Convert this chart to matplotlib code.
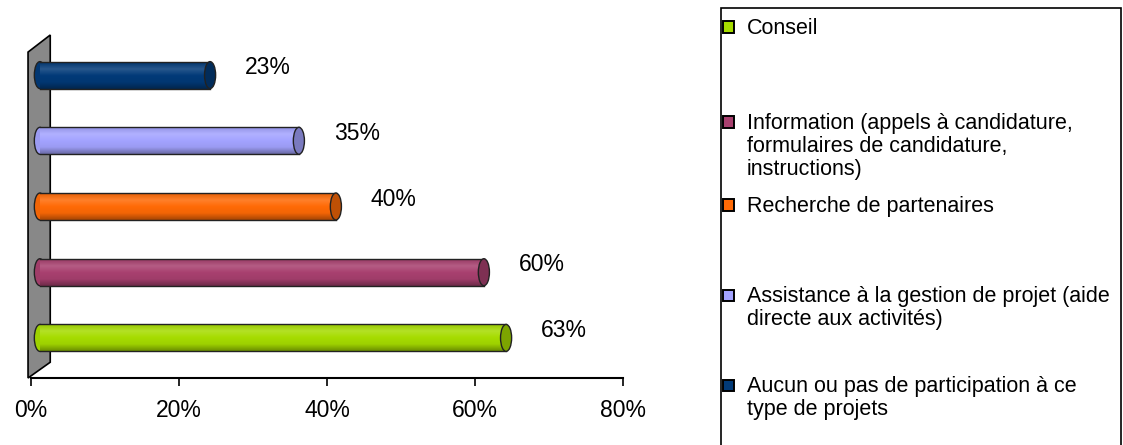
import numpy as np
import matplotlib
matplotlib.use("Agg")
import matplotlib.pyplot as plt
from matplotlib.patches import Rectangle, Ellipse, Polygon
from matplotlib.colors import to_rgb, LinearSegmentedColormap

plt.rcParams["font.family"] = ["Liberation Sans", "DejaVu Sans"]

# -------------------------------
# Data (bottom -> top)
# -------------------------------
categories = [
    "Conseil",
    "Information (appels à candidature,\nformulaires de candidature,\ninstructions)",
    "Recherche de partenaires",
    "Assistance à la gestion de projet (aide\ndirecte aux activités)",
    "Aucun ou pas de participation à ce\ntype de projets",
]
values = [63, 60, 40, 35, 23]
colors = ["#A6DC00", "#A8406F", "#FF6A06", "#A3A3FF", "#023A78"]
xticks = [0, 20, 40, 60, 80]
xtick_labels = ["0%", "20%", "40%", "60%", "80%"]

W, H = 1123, 445
fig = plt.figure(figsize=(W / 100, H / 100), dpi=100)

# axes placed in pixel terms
ax_l, ax_r, ax_b, ax_t = 31, 623, 378, 35
ax = fig.add_axes([ax_l / W, (H - ax_b) / H, (ax_r - ax_l) / W, (ax_b - ax_t) / H])
ax.set_xlim(0, 80)
ax.set_ylim(-0.61, 4.61)

for s in ["left", "right", "top"]:
    ax.spines[s].set_visible(False)
ax.spines["bottom"].set_linewidth(1.5)
ax.set_xticks(xticks)
ax.set_xticklabels(xtick_labels, fontsize=16.5)
ax.tick_params(axis="x", direction="out", length=6, width=1.2, pad=9)
ax.set_yticks([])

# grey back wall (3D look)
wall = Polygon([(-0.4, -0.61), (2.6, -0.37), (2.6, 4.61), (-0.4, 4.35)],
               closed=True, facecolor="#888888", edgecolor="black", lw=1.2,
               clip_on=False, zorder=1)
ax.add_patch(wall)


def shade(c, f):
    r = np.array(to_rgb(c))
    if f >= 0:
        return tuple(r + (1 - r) * f)
    return tuple(r * (1 + f))


# -------------------------------
# Cylinder bars
# -------------------------------
x0 = 1.2
bh = 0.41
capw = 1.5
for i, (v, c) in enumerate(zip(values, colors)):
    y = i
    # left rounded cap
    ax.add_patch(Ellipse((x0, y), capw, bh, facecolor=shade(c, -0.05),
                         edgecolor="#222222", lw=1.0, zorder=3))
    body = Rectangle((x0, y - bh / 2), v, bh, facecolor=c,
                     edgecolor="none", zorder=4)
    ax.add_patch(body)
    cmap = LinearSegmentedColormap.from_list(
        "g", [shade(c, -0.35), shade(c, -0.05), c, shade(c, 0.15), shade(c, -0.1)])
    grad = np.linspace(0, 1, 64).reshape(-1, 1)
    im = ax.imshow(grad, cmap=cmap, aspect="auto", origin="lower",
                   extent=(x0, x0 + v, y - bh / 2, y + bh / 2), zorder=4)
    im.set_clip_path(body)
    # outline top/bottom
    ax.plot([x0, x0 + v], [y + bh / 2, y + bh / 2], color="#222222", lw=1.0, zorder=5)
    ax.plot([x0, x0 + v], [y - bh / 2, y - bh / 2], color="#222222", lw=1.0, zorder=5)
    # right end cap
    ax.add_patch(Ellipse((x0 + v, y), capw, bh, facecolor=shade(c, -0.25),
                         edgecolor="#222222", lw=1.0, zorder=6))
    ax.text(v + 9.0, y + 0.11, f"{v}%", fontsize=16.5, ha="center", va="center", zorder=7)

ax.set_xlim(0, 80)
ax.set_ylim(-0.61, 4.61)

# -------------------------------
# Legend (manual box)
# -------------------------------
box = Rectangle((721 / W, -0.01), (1121 - 721) / W, (H - 8) / H + 0.01,
                transform=fig.transFigure, facecolor="white", edgecolor="black",
                lw=1.2, clip_on=False)
fig.add_artist(box)

slot_centers = [27, 122, 205, 295, 385]
for lab, c, yc in zip(categories, colors, slot_centers):
    sq = Rectangle((723 / W, (H - yc - 5.5) / H), 11 / W, 11 / H,
                   transform=fig.transFigure, facecolor=c, edgecolor="black", lw=1.4)
    fig.add_artist(sq)
    fig.text(747 / W, (H - yc + 9) / H, lab, fontsize=15.5, ha="left", va="top",
             linespacing=1.12, transform=fig.transFigure)

fig.savefig("out.png", dpi=100)
